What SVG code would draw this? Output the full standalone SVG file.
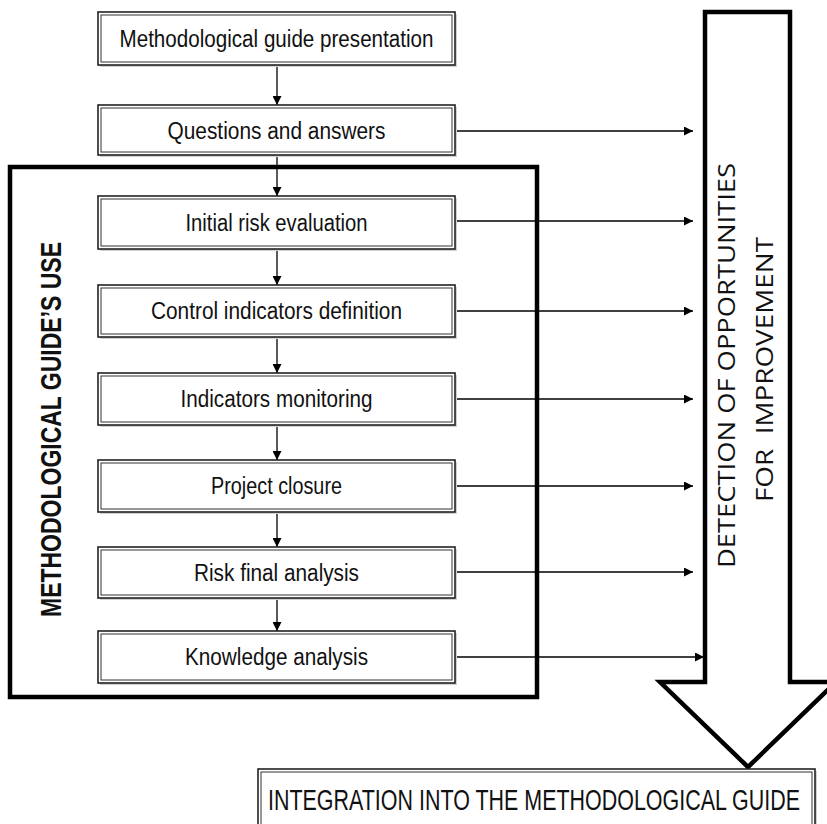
<svg xmlns="http://www.w3.org/2000/svg" width="827" height="824" viewBox="0 0 827 824">
<defs>
<marker id="ah" viewBox="0 0 10 10" refX="10" refY="5" markerWidth="9" markerHeight="9" markerUnits="userSpaceOnUse" orient="auto">
<path d="M0,0 L10,5 L0,10 Z" fill="#000"/>
</marker>
<style>
.sh{fill:#d0d0d0;stroke:none}
.bo{fill:#fff;stroke:#222;stroke-width:1.6}
.bi{fill:none;stroke:#333;stroke-width:1}
.lbl{font-family:"Liberation Sans",Arial,sans-serif;font-size:23.5px;fill:#111;text-anchor:middle}
.con{stroke:#000;stroke-width:1.3;fill:none;marker-end:url(#ah)}
.thick{fill:#fff;stroke:#000;stroke-width:4.5}
.side{font-family:"Open Sans","Noto Sans",sans-serif;font-weight:normal;font-size:23px;fill:#111;text-anchor:middle}
</style>
</defs>
<rect width="827" height="824" fill="#fff"/>

<g id="guide-use-frame">
<rect class="thick" x="10" y="167" width="527" height="530" fill="none"/>
<text x="61" y="429.5" transform="rotate(-90 61 429.5)" font-family="Liberation Sans,Arial,sans-serif" font-weight="bold" font-size="29" fill="#111" text-anchor="middle" textLength="375" lengthAdjust="spacingAndGlyphs">METHODOLOGICAL GUIDE’S USE</text>
</g>

<g id="detection-arrow">
<polygon class="thick" points="705,12 790,12 790,682 836,682 748,767 660,682 705,682"/>
<text class="side" x="735" y="365.5" transform="rotate(-90 735 365.5)" textLength="405" lengthAdjust="spacingAndGlyphs">DETECTION OF OPPORTUNITIES</text>
<text class="side" x="773" y="369.5" transform="rotate(-90 773 369.5)" textLength="265" lengthAdjust="spacingAndGlyphs" xml:space="preserve">FOR  IMPROVEMENT</text>
</g>

<g id="connectors">
<line class="con" x1="277" y1="65" x2="277" y2="105"/>
<line class="con" x1="277" y1="155" x2="277" y2="196"/>
<line class="con" x1="277" y1="249" x2="277" y2="285"/>
<line class="con" x1="277" y1="337" x2="277" y2="373"/>
<line class="con" x1="277" y1="425" x2="277" y2="460"/>
<line class="con" x1="277" y1="512" x2="277" y2="547"/>
<line class="con" x1="277" y1="598" x2="277" y2="631"/>
<line class="con" x1="455" y1="131" x2="693" y2="131"/>
<line class="con" x1="455" y1="221" x2="693" y2="221"/>
<line class="con" x1="455" y1="311" x2="693" y2="311"/>
<line class="con" x1="455" y1="399" x2="693" y2="399"/>
<line class="con" x1="455" y1="486" x2="693" y2="486"/>
<line class="con" x1="455" y1="572" x2="693" y2="572"/>
<line class="con" x1="455" y1="657" x2="704" y2="657"/>
</g>

<g id="n1">
<rect class="sh" x="100" y="14" width="357" height="53"/>
<rect class="bo" x="98" y="12" width="357" height="53"/>
<rect class="bi" x="101" y="15" width="351" height="47"/>
<text class="lbl" x="276.5" y="47" textLength="314" lengthAdjust="spacingAndGlyphs">Methodological guide presentation</text>
</g>
<g id="n2">
<rect class="sh" x="100" y="107" width="357" height="50"/>
<rect class="bo" x="98" y="105" width="357" height="50"/>
<rect class="bi" x="101" y="108" width="351" height="44"/>
<text class="lbl" x="276.5" y="139" textLength="218" lengthAdjust="spacingAndGlyphs">Questions and answers</text>
</g>
<g id="n3">
<rect class="sh" x="100" y="198" width="357" height="53"/>
<rect class="bo" x="98" y="196" width="357" height="53"/>
<rect class="bi" x="101" y="199" width="351" height="47"/>
<text class="lbl" x="276.5" y="230.5" textLength="182" lengthAdjust="spacingAndGlyphs">Initial risk evaluation</text>
</g>
<g id="n4">
<rect class="sh" x="100" y="287" width="357" height="52"/>
<rect class="bo" x="98" y="285" width="357" height="52"/>
<rect class="bi" x="101" y="288" width="351" height="46"/>
<text class="lbl" x="276.5" y="319" textLength="251" lengthAdjust="spacingAndGlyphs">Control indicators definition</text>
</g>
<g id="n5">
<rect class="sh" x="100" y="375" width="357" height="52"/>
<rect class="bo" x="98" y="373" width="357" height="52"/>
<rect class="bi" x="101" y="376" width="351" height="46"/>
<text class="lbl" x="276.5" y="407" textLength="192" lengthAdjust="spacingAndGlyphs">Indicators monitoring</text>
</g>
<g id="n6">
<rect class="sh" x="100" y="462" width="357" height="52"/>
<rect class="bo" x="98" y="460" width="357" height="52"/>
<rect class="bi" x="101" y="463" width="351" height="46"/>
<text class="lbl" x="276.5" y="494" textLength="131" lengthAdjust="spacingAndGlyphs">Project closure</text>
</g>
<g id="n7">
<rect class="sh" x="100" y="549" width="357" height="51"/>
<rect class="bo" x="98" y="547" width="357" height="51"/>
<rect class="bi" x="101" y="550" width="351" height="45"/>
<text class="lbl" x="276.5" y="581" textLength="165" lengthAdjust="spacingAndGlyphs">Risk final analysis</text>
</g>
<g id="n8">
<rect class="sh" x="100" y="633" width="357" height="52"/>
<rect class="bo" x="98" y="631" width="357" height="52"/>
<rect class="bi" x="101" y="634" width="351" height="46"/>
<text class="lbl" x="276.5" y="665" textLength="183" lengthAdjust="spacingAndGlyphs">Knowledge analysis</text>
</g>

<g id="integration">
<rect class="sh" x="260" y="771" width="557" height="60"/>
<rect class="bo" x="258" y="769" width="557" height="60"/>
<rect class="bi" x="261" y="772" width="551" height="60"/>
<text x="534" y="810" font-family="Liberation Sans,Arial,sans-serif" font-size="29" fill="#111" text-anchor="middle" textLength="532" lengthAdjust="spacingAndGlyphs">INTEGRATION INTO THE METHODOLOGICAL GUIDE</text>
</g>
</svg>
